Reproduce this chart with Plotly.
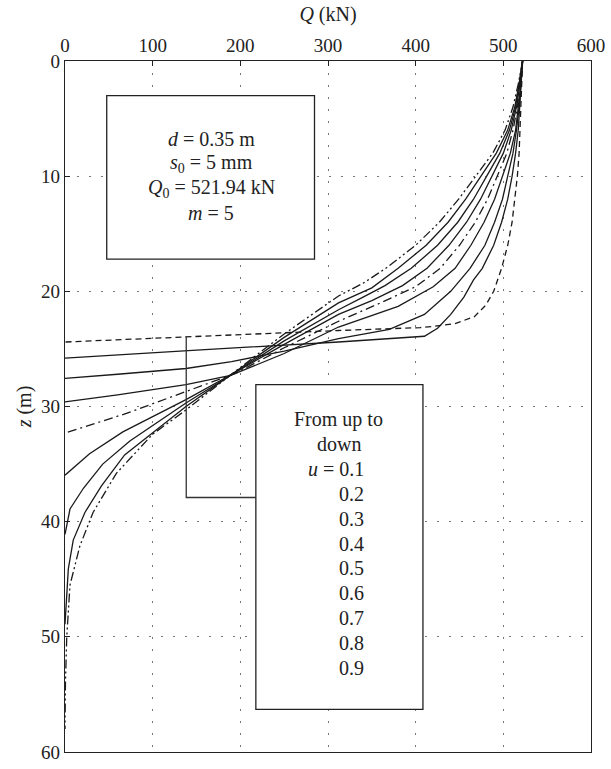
import plotly.graph_objects as go

# Axial force Q (kN) along pile depth z (m) for each u value
u_values = [0.1, 0.2, 0.3, 0.4, 0.5, 0.6, 0.7, 0.8, 0.9]

q_u01 = [521.94, 521, 520, 519, 518, 516, 513, 510, 505, 498, 489, 480, 467, 445, 420, 405, 312, 232, 96, 0]
z_u01 = [0, 2, 4, 6, 8, 10, 12, 14, 16, 18, 20, 21.2, 22.2, 22.8, 23.05, 23.15, 23.4, 23.65, 24.1, 24.4]

q_u02 = [521.94, 520.5, 519, 517, 514, 510, 505, 498, 489, 476, 466, 455, 440, 425, 410, 312, 150, 0]
z_u02 = [0, 2, 4, 6, 8, 10, 12, 14, 16, 18, 19, 20.5, 22, 23.2, 23.9, 24.4, 25.1, 25.8]

q_u03 = [521.94, 520, 518, 515, 511, 505, 499, 490, 479, 462, 440, 410, 370, 312, 250, 190, 138, 60, 0]
z_u03 = [0, 2, 4, 6, 8, 10, 12, 14, 16, 18, 20, 22, 23.3, 24.1, 25.2, 26.1, 26.7, 27.2, 27.55]

q_u04 = [521.94, 520, 517, 514, 508, 499, 490, 478, 463, 445, 420, 380, 312, 250, 189, 138, 60, 0]
z_u04 = [0, 2, 4, 6, 8, 10, 12, 14, 16, 18, 19.6, 21.3, 23.1, 25.4, 27.3, 28.1, 29.0, 29.6]

q_u05 = [521.94, 519, 516, 511, 504, 493, 482, 468, 450, 428, 400, 360, 312, 250, 195, 138, 70, 0]
z_u05 = [0, 2, 4, 6, 8, 10, 12, 14, 16, 18, 19.6, 21.0, 22.6, 24.9, 27.1, 28.7, 30.6, 32.3]

q_u06 = [521.94, 519, 515, 509, 500, 487, 474, 458, 438, 413, 385, 350, 312, 250, 195, 138, 66, 28, 0]
z_u06 = [0, 2, 4, 6, 8, 10, 12, 14, 16, 18, 19.5, 20.8, 22.0, 24.6, 27.0, 29.4, 32.2, 34.1, 35.96]

q_u07 = [521.94, 518, 514, 507, 496, 481, 466, 448, 425, 395, 365, 340, 312, 250, 195, 138, 74, 43, 21, 5.7, 0]
z_u07 = [0, 2, 4, 6, 8, 10, 12, 14, 16, 18, 19.5, 20.5, 21.6, 24.3, 27.0, 29.7, 33, 35, 37.1, 38.9, 41.1]

q_u08 = [521.94, 518, 513, 505, 492, 474, 457, 437, 412, 380, 350, 312, 250, 195, 138, 68, 41.6, 22.7, 9.4, 3.8, 0]
z_u08 = [0, 2, 4, 6, 8, 10, 12, 14, 16, 18, 19.7, 21.0, 24.0, 26.95, 30.0, 34.2, 36.9, 39.2, 41.6, 44.1, 48.9]

q_u09 = [521.94, 517, 511, 502, 488, 468, 449, 427, 400, 366, 340, 312, 250, 195, 138, 100, 58.6, 32, 17, 5.7, 2, 0.5, 0]
z_u09 = [0, 2, 4, 6, 8, 10, 12, 14, 16, 18, 19.3, 20.4, 23.7, 26.9, 30.3, 32.4, 35.8, 39.2, 42.1, 45.5, 50, 54, 58]

curves = [
    (q_u01, z_u01, "6px,4px"),
    (q_u02, z_u02, "solid"),
    (q_u03, z_u03, "solid"),
    (q_u04, z_u04, "solid"),
    (q_u05, z_u05, "9px,4px,2px,4px"),
    (q_u06, z_u06, "solid"),
    (q_u07, z_u07, "solid"),
    (q_u08, z_u08, "solid"),
    (q_u09, z_u09, "9px,3px,2px,3px,2px,3px"),
]

x_ticks = [0, 100, 200, 300, 400, 500, 600]
y_ticks = [0, 10, 20, 30, 40, 50, 60]

params_lines = ["<i>d</i> = 0.35 m", "<i>s</i><sub>0</sub> = 5 mm",
                "<i>Q</i><sub>0</sub> = 521.94 kN", "<i>m</i> = 5"]
legend_head = ["From up to", "down"]

FONT = "Liberation Serif"

fig = go.Figure()
for q, z, dash in curves:
    fig.add_trace(go.Scatter(x=q, y=z, mode="lines", showlegend=False,
                             line=dict(color="#1a1a1a", width=1.3, dash=dash)))

# parameter box
fig.add_shape(type="rect", x0=47.6, x1=284.6, y0=3.0, y1=17.2,
              line=dict(color="#222", width=1.3), fillcolor="white", layer="above")
for i, t in enumerate(params_lines):
    fig.add_annotation(x=167, y=6.75 + 2.16 * i, text=t, showarrow=False,
                       xanchor="center", yanchor="middle",
                       font=dict(family=FONT, size=20, color="#222"))

# legend box with bracket
fig.add_shape(type="rect", x0=217.7, x1=408.3, y0=28.1, y1=56.3,
              line=dict(color="#222", width=1.3), fillcolor="white", layer="above")
fig.add_shape(type="path", path="M 138.3,23.9 L 138.3,37.9 L 217.7,37.9",
              line=dict(color="#333", width=1.3), layer="above")
for i, t in enumerate(legend_head):
    fig.add_annotation(x=312, y=31.1 + 2.16 * i, text=t, showarrow=False,
                       xanchor="center", yanchor="middle",
                       font=dict(family=FONT, size=20, color="#222"))
for i, u in enumerate(u_values):
    t = f"<i>u</i> = {u:.1f}" if i == 0 else f"{u:.1f}"
    fig.add_annotation(x=343.6, y=31.1 + 2.16 * (i + 2), text=t, showarrow=False,
                       xanchor="right", yanchor="middle",
                       font=dict(family=FONT, size=20, color="#222"))

fig.update_layout(
    width=611, height=769,
    margin=dict(l=65, r=17, t=61, b=6),
    plot_bgcolor="white", paper_bgcolor="white",
    font=dict(family=FONT, size=19, color="#222"),
)
fig.update_xaxes(
    side="top", range=[0, 600], tickvals=x_ticks,
    title=dict(text="<i>Q</i> (kN)", font=dict(family=FONT, size=20), standoff=8),
    showline=True, linecolor="#222", linewidth=1.3, mirror=True,
    ticks="inside", ticklen=5, tickcolor="#222",
    showgrid=True, gridcolor="#777", gridwidth=1, griddash="2px,10px",
    zeroline=False, ticklabeloverflow="allow",
)
fig.update_yaxes(
    range=[60, 0], tickvals=y_ticks,
    title=dict(text="<i>z</i> (m)", font=dict(family=FONT, size=20), standoff=4),
    showline=True, linecolor="#222", linewidth=1.3, mirror=True,
    ticks="inside", ticklen=5, tickcolor="#222",
    showgrid=True, gridcolor="#777", gridwidth=1, griddash="2px,10px",
    zeroline=False, ticklabeloverflow="allow",
)

fig.write_html("out.html")
